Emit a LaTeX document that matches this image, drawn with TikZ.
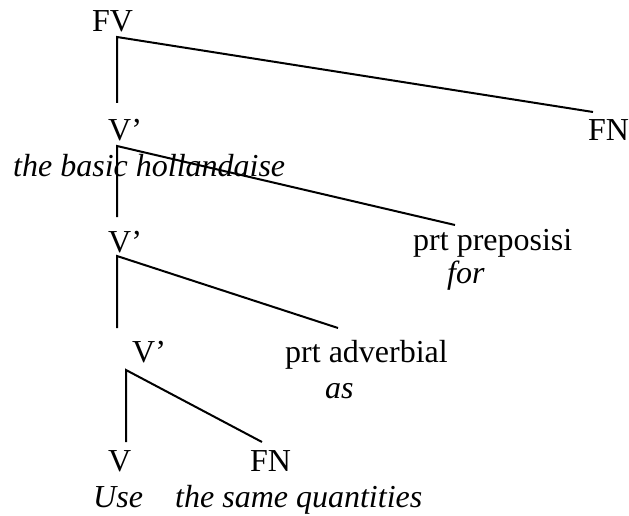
\documentclass[tikz,border=0pt]{standalone}
\usepackage{fontspec}
\setmainfont{Liberation Serif}
\begin{document}
\begin{tikzpicture}[x=1pt,y=-1pt,
  lbl/.style={anchor=base west,inner sep=0pt,font=\fontsize{32}{38}\selectfont},
  itl/.style={anchor=base west,inner sep=0pt,font=\fontsize{32}{38}\selectfont\itshape},
  branch/.style={line width=2pt,line cap=butt}]
\useasboundingbox[fill=white] (0,0) rectangle (629,516);
% labels
\node[lbl] (fv) at (92,32) {FV};
\node[lbl] (fn1) at (588,140) {FN};
\node[lbl] (vb1) at (108,141) {V’};
\node[itl] (holl) at (13,176) {the basic hollandaise};
\node[lbl] (vb2) at (108,252) {V’};
\node[lbl] (prep) at (413,250) {prt preposisi};
\node[itl] (for) at (447,283) {for};
\node[lbl] (vb3) at (132,362) {V’};
\node[lbl] (adv) at (285,362) {prt adverbial};
\node[itl] (as) at (325,398) {as};
\node[lbl] (v) at (108,471) {V};
\node[lbl] (fn2) at (250,471) {FN};
\node[itl] (use) at (93,507) {Use};
\node[itl] (qty) at (175,507) {the same quantities};
% junction points
\coordinate (j0) at (117,37);
\coordinate (j0a) at (117,103);
\coordinate (j0b) at (593,112);
\coordinate (j1) at (117,146);
\coordinate (j1a) at (117,217);
\coordinate (j1b) at (455,225);
\coordinate (j2) at (117,256);
\coordinate (j2a) at (117,328);
\coordinate (j2b) at (338,328);
\coordinate (j3) at (126,370);
\coordinate (j3a) at (126,442);
\coordinate (j3b) at (262,442);
% branches
\draw[branch] (j0a) -- (j0) -- (j0b);
\draw[branch] (j1a) -- (j1) -- (j1b);
\draw[branch] (j2a) -- (j2) -- (j2b);
\draw[branch] (j3a) -- (j3) -- (j3b);
\end{tikzpicture}
\end{document}
